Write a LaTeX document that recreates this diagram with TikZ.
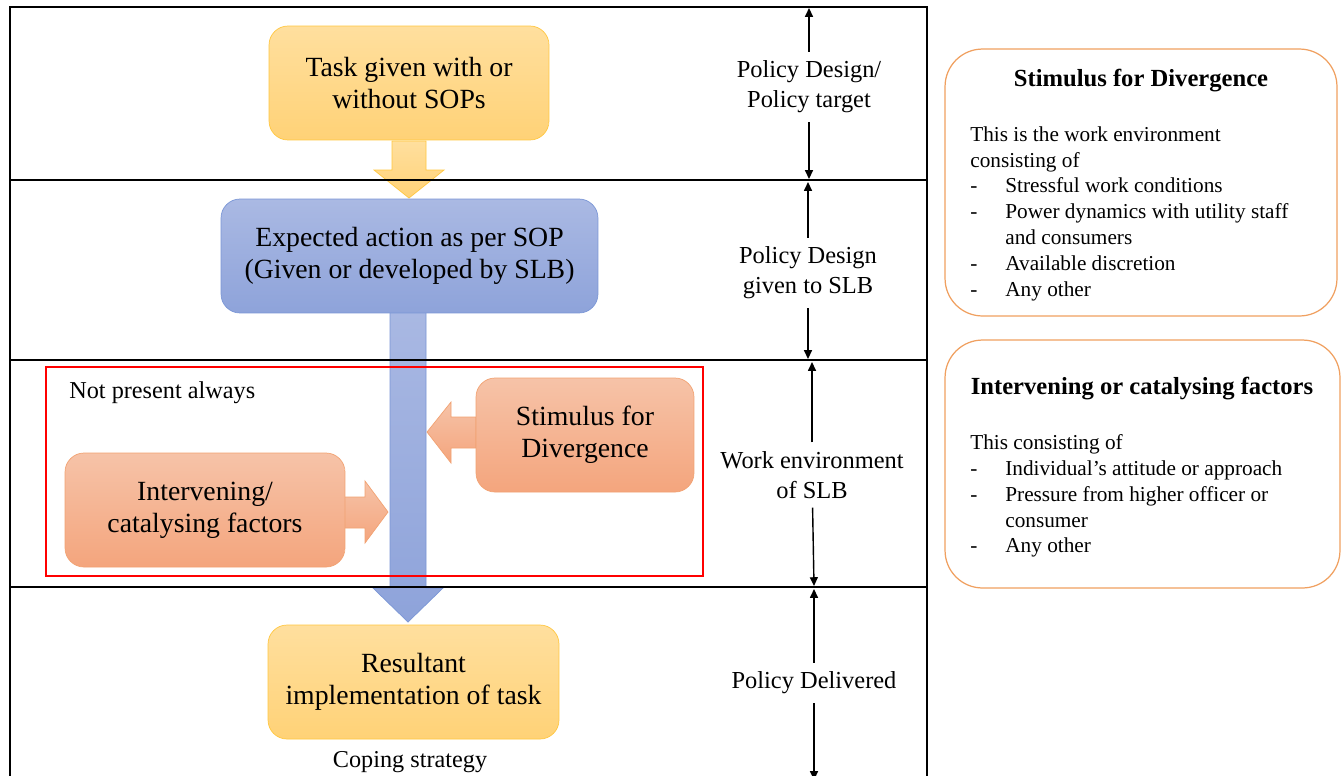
\documentclass[tikz,border=0pt]{standalone}
\usepackage{fontspec}
\setmainfont{Liberation Serif}
\usepackage{tikz}
\usetikzlibrary{arrows.meta}
\usetikzlibrary{positioning}
\definecolor{yelTop}{HTML}{FFDF9E}
\definecolor{yelBot}{HTML}{FFD277}
\definecolor{yelLine}{HTML}{FFC740}
\definecolor{bluTop}{HTML}{AAB9E3}
\definecolor{bluBot}{HTML}{8EA3DA}
\definecolor{bluLine}{HTML}{7A96D6}
\definecolor{orgTop}{HTML}{F6C3A8}
\definecolor{orgBot}{HTML}{F4A57D}
\definecolor{orgLine}{HTML}{F2A272}
\definecolor{sideLine}{HTML}{F0A060}
\tikzset{mainbox/.style={rounded corners=0.38cm, align=center, inner sep=0pt,
      font=\fontsize{15.8}{18.3}\selectfont, minimum height=2.28cm}}
\tikzset{taskbox/.style={mainbox, draw=yelLine, top color=yelTop, bottom color=yelBot}}
\tikzset{sopbox/.style={mainbox, draw=bluLine, top color=bluTop, bottom color=bluBot}}
\tikzset{factorbox/.style={mainbox, draw=orgLine, top color=orgTop, bottom color=orgBot}}
\tikzset{yelblock/.style={draw=yelLine, line width=0.4pt, top color=yelTop, bottom color=yelBot}}
\tikzset{blublock/.style={draw=bluLine, line width=0.4pt, top color=bluTop, bottom color=bluBot}}
\tikzset{orgblock/.style={draw=orgLine, line width=0.4pt, top color=orgTop, bottom color=orgBot}}
\tikzset{level/.style={align=center, inner xsep=2pt, inner ysep=5pt,
      font=\fontsize{13.9}{17}\selectfont}}
\tikzset{levelarrow/.style={line width=0.8pt, -{Triangle[length=5pt,width=4.5pt]}}}
\tikzset{sidebox/.style={draw=sideLine, line width=0.7pt, rounded corners=0.75cm}}
\tikzset{sidetitle/.style={inner sep=0pt, font=\fontsize{14}{16}\selectfont\bfseries}}
\tikzset{sidebody/.style={inner sep=0pt, align=left, anchor=north west,
      font=\fontsize{12.1}{14.75}\selectfont}}
\tikzset{plaintext/.style={inner sep=0pt, font=\fontsize{13.8}{16}\selectfont}}
\newcommand{\dashitem}[1]{\makebox[0.7cm][l]{-}#1}

\begin{document}
\begin{tikzpicture}[x=0.02cm, y=-0.02cm]
		\clip (0,0) rectangle (1344,775);
		\fill[white] (0,0) rectangle (1344,775);
		\path[yelblock] (392,141) -- (426,141) -- (426,170) -- (444,170) -- (409,198) -- (374,170) -- (392,170) -- cycle;
		\path[blublock] (390,300) -- (426,300) -- (426,588) -- (443,588) -- (408,622) -- (373,588) -- (390,588) -- cycle;
		\path[orgblock] (476,417) -- (451,417) -- (451,402) -- (427,432) -- (451,463) -- (451,448) -- (476,448) -- cycle;
		\path[orgblock] (340,497) -- (365,497) -- (365,481) -- (388,512) -- (365,543) -- (365,528) -- (340,528) -- cycle;
		\draw[line width=1.1pt] (10,790) -- (10,7) -- (927,7) -- (927,790);
		\draw[line width=1.1pt] (10,180) -- (927,180);
		\draw[line width=1.1pt] (10,360) -- (927,360);
		\draw[line width=1.1pt] (10,587) -- (927,587);
		\draw[red, line width=0.6pt] (46,367) rectangle (703,576);
		\node[taskbox, minimum width=5.6cm] (task) at (409,83) {Task given with or\\without SOPs};
		\node[sopbox, minimum width=7.54cm] (sop) at (409.5,256) {Expected action as per SOP\\(Given or developed by SLB)};
		\node[factorbox, minimum width=4.36cm] (stimulus) at (585,435) {Stimulus for\\Divergence};
		\node[factorbox, minimum width=5.6cm] (intervening) at (205,510) {Intervening/\\catalysing factors};
		\node[taskbox, minimum width=5.82cm] (result) at (413.5,682) {Resultant\\implementation of task};
		\node[plaintext, anchor=west] (notalways) at (69,393) {Not present always};
		\node[plaintext] (coping) at (410,762) {Coping strategy};
		\node[level] (target) at (809,87) {Policy Design/\\Policy target};
		\node[level] (given) at (808,273) {Policy Design\\given to SLB};
		\node[level] (workenv) at (812,475) {Work environment\\of SLB};
		\node[level] (delivered) at (814,683) {Policy Delivered};
		\coordinate (targettop) at (809,8);
		\coordinate (targetbot) at (809,179);
		\coordinate (giventop) at (808,182);
		\coordinate (givenbot) at (808,359);
		\coordinate (workenvtop) at (812,362);
		\coordinate (workenvbot) at (814,586);
		\coordinate (deliveredtop) at (814,589);
		\coordinate (deliveredbot) at (814,780);
		\draw[levelarrow] (target) -- (targettop);
		\draw[levelarrow] (target) -- (targetbot);
		\draw[levelarrow] (given) -- (giventop);
		\draw[levelarrow] (given) -- (givenbot);
		\draw[levelarrow] (workenv) -- (workenvtop);
		\draw[levelarrow] (workenv) -- (workenvbot);
		\draw[levelarrow] (delivered) -- (deliveredtop);
		\draw[levelarrow] (delivered) -- (deliveredbot);
		\node[sidebox, minimum width=7.84cm, minimum height=5.34cm] (stimside) at (1141,182.5) {};
		\node[sidetitle] (stimtitle) at (1141,81) {Stimulus for Divergence};
		\node[sidebody] (stimbody) at (970,126) {This is the work environment\\consisting of\\
			\dashitem{Stressful work conditions}\\\dashitem{Power dynamics with utility staff}\\
			\hspace*{0.7cm}and consumers\\\dashitem{Available discretion}\\\dashitem{Any other}};
		\node[sidebox, minimum width=7.9cm, minimum height=4.96cm] (factside) at (1142.5,464) {};
		\node[sidetitle] (facttitle) at (1142,389) {Intervening or catalysing factors};
		\node[sidebody] (factbody) at (970,434) {This consisting of\\
			\dashitem{Individual’s attitude or approach}\\\dashitem{Pressure from higher officer or}\\
			\hspace*{0.7cm}consumer\\\dashitem{Any other}};
		\end{tikzpicture}
\end{document}
